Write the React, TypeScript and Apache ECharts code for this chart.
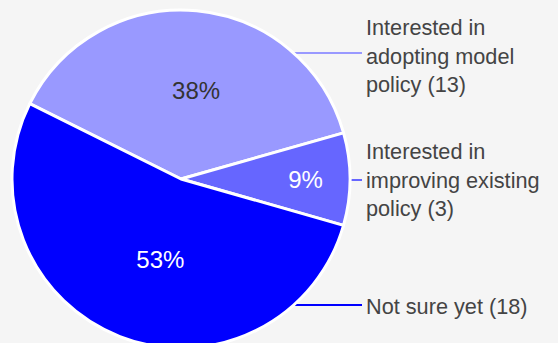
import React, { useEffect, useRef } from "react";
import * as echarts from "echarts";

// Data
const categories = [
  "Interested in\nadopting model\npolicy",
  "Interested in\nimproving existing\npolicy",
  "Not sure yet",
];
const counts = [13, 3, 18];
const sliceColors = ["#9999ff", "#6666ff", "#0000ff"];
const percentLabelColors = ["#333333", "#ffffff", "#ffffff"];

// Layout constants
const W = 558;
const H = 343;
const CX = 181;
const CY = 179;
const R = 169;
const FONT = "'Liberation Sans', Arial, Helvetica, sans-serif";
const pctOffsets = [
  [7, -1],
  [37, 0],
  [11, -1],
];
const textYs = [56, 180, 306];
const lineYs = [53, 180, 305];
const TEXT_X = 366;
const LINE_END_X = 362;

export default function App() {
  const ref = useRef<HTMLDivElement>(null);

  useEffect(() => {
    if (!ref.current) return;
    const chart = echarts.init(ref.current, null, { renderer: "svg", width: W, height: H });

    const innerData = counts.map((v, i) => ({
      value: v,
      name: categories[i],
      itemStyle: { color: sliceColors[i] },
      label: { color: percentLabelColors[i] },
    }));
    const outerData = counts.map((v, i) => ({
      value: v,
      name: categories[i],
      itemStyle: { color: "rgba(0,0,0,0)", borderWidth: 0 },
      labelLine: { lineStyle: { color: sliceColors[i] } },
    }));

    chart.setOption({
      animation: false,
      backgroundColor: "#f5f5f5",
      series: [
        {
          type: "pie",
          center: [CX, CY],
          radius: R,
          startAngle: 153.5,
          clockwise: true,
          silent: true,
          itemStyle: { borderColor: "#ffffff", borderWidth: 3 },
          label: {
            show: true,
            position: "inside",
            fontFamily: FONT,
            fontSize: 24,
            formatter: (p: any) => Math.round(p.percent) + "%",
          },
          labelLine: { show: false },
          labelLayout: (p: any) => ({
            dx: pctOffsets[p.dataIndex][0],
            dy: pctOffsets[p.dataIndex][1],
          }),
          emphasis: { disabled: true },
          data: innerData,
        },
        {
          type: "pie",
          center: [CX, CY],
          radius: R,
          startAngle: 153.5,
          clockwise: true,
          silent: true,
          label: {
            show: true,
            position: "outside",
            color: "#444444",
            fontFamily: FONT,
            fontSize: 21.7,
            lineHeight: 28.5,
            width: 220,
            overflow: "none",
            formatter: (p: any) => `${p.name} (${p.value})`,
          },
          labelLine: { show: true, lineStyle: { width: 2 } },
          labelLayout: (p: any) => {
            const i = p.dataIndex;
            const ly = lineYs[i];
            const d = Math.max(0, R * R - (ly - CY) * (ly - CY));
            const ex = CX + Math.sqrt(d);
            return {
              x: TEXT_X,
              y: textYs[i],
              align: "left",
              verticalAlign: "middle",
              labelLinePoints: [
                [ex, ly],
                [ex, ly],
                [LINE_END_X, ly],
              ],
            };
          },
          emphasis: { disabled: true },
          data: outerData,
        },
      ],
    });

    return () => chart.dispose();
  }, []);

  return (
    <div
      ref={ref}
      style={{ position: "absolute", left: 0, top: 0, width: W, height: H, background: "#f5f5f5" }}
    />
  );
}
